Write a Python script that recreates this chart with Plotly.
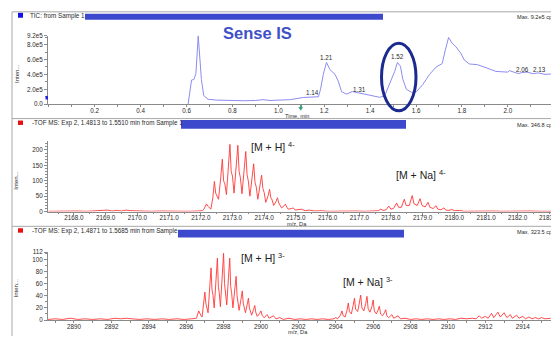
import plotly.graph_objects as go

W, H = 551, 339

# ---------------- data ----------------
# TIC chromatogram (time, min ; intensity, cps)
tic_time = [0.607, 0.622, 0.632, 0.641, 0.651, 0.665, 0.675, 0.694, 0.73, 0.78, 0.85, 0.90, 0.933, 0.964,
            1.05, 1.109, 1.153, 1.175, 1.184, 1.196, 1.21, 1.225, 1.247, 1.261, 1.276, 1.297, 1.323,
            1.355, 1.399, 1.442, 1.464, 1.478, 1.497, 1.507, 1.519, 1.532, 1.543, 1.558, 1.580, 1.601,
            1.63, 1.659, 1.688, 1.714, 1.728, 1.742, 1.757, 1.774, 1.796, 1.81, 1.832, 1.868, 1.905,
            1.948, 2.0, 2.007, 2.046, 2.062, 2.082, 2.111, 2.133, 2.162, 2.188]
tic_int = [0.0, 3.25e5, 3.3e5, 4.1e5, 9.2e5, 3.3e5, 1.15e5, 0.66e5, 0.55e5, 0.47e5, 0.46e5, 0.5e5, 0.6e5, 0.5e5,
           0.6e5, 0.9e5, 0.95e5, 1.0e5, 2.0e5, 4.0e5, 5.6e5, 4.65e5, 4.0e5, 3.1e5, 1.67e5, 1.35e5, 1.7e5,
           1.5e5, 1.15e5, 0.92e5, 1.15e5, 2.2e5, 3.55e5, 4.4e5, 5.6e5, 5.1e5, 3.3e5, 2.0e5, 1.6e5, 1.65e5,
           2.65e5, 4.0e5, 5.0e5, 5.45e5, 7.3e5, 8.95e5, 8.2e5, 7.7e5, 6.8e5, 5.95e5, 5.4e5, 5.3e5, 4.9e5,
           4.4e5, 4.3e5, 4.5e5, 4.1e5, 4.25e5, 4.3e5, 4.1e5, 4.2e5, 4.0e5, 4.05e5]
tic_peak_labels = ["0.65", "1.21", "1.14", "1.31", "1.52", "1.74", "2.06", "2.13"]
tic_label_x = [0.651, 1.211, 1.147, 1.354, 1.519, 1.744, 2.062, 2.139]
tic_label_y = [9.59e5, 6.22e5, 1.52e5, 1.92e5, 6.35e5, 9.59e5, 4.6e5, 4.6e5]
tic_yticks = [0, 2e5, 4e5, 6e5, 8e5, 9.2e5]
tic_yticktext = ["0.0", "2.0e5", "4.0e5", "6.0e5", "8.0e5", "9.2e5"]
tic_xticks = [0.2, 0.4, 0.6, 0.8, 1.0, 1.2, 1.4, 1.6, 1.8, 2.0]

# TOF MS spectrum 1 (m/z ; intensity)
ms1_mz = [2167.2, 2167.5, 2167.8, 2168.1, 2168.4, 2168.7, 2168.9, 2169.05, 2169.2, 2169.35, 2169.5,
          2169.65, 2169.8, 2170.0, 2170.2, 2170.45, 2170.7, 2171.0, 2171.3, 2171.6, 2171.9, 2172.05,
          2172.10, 2172.18, 2172.22, 2172.27, 2172.32, 2172.38, 2172.43, 2172.47, 2172.51, 2172.56,
          2172.63, 2172.68, 2172.72, 2172.76, 2172.81, 2172.87, 2172.92, 2172.96, 2173.0, 2173.05,
          2173.12, 2173.17, 2173.21, 2173.25, 2173.30, 2173.37, 2173.42, 2173.46, 2173.50, 2173.55,
          2173.62, 2173.67, 2173.71, 2173.75, 2173.80, 2173.87, 2173.92, 2173.96, 2174.0, 2174.05,
          2174.12, 2174.17, 2174.21, 2174.25, 2174.30, 2174.37, 2174.42, 2174.46, 2174.50, 2174.55,
          2174.62, 2174.67, 2174.71, 2174.76, 2174.86, 2174.92, 2174.98, 2175.1, 2175.17, 2175.3,
          2175.42, 2175.6, 2175.8, 2176.0, 2176.3, 2176.6, 2176.9, 2177.2, 2177.45, 2177.6, 2177.68,
          2177.75, 2177.85, 2177.93, 2178.0, 2178.08, 2178.18, 2178.24, 2178.33, 2178.42, 2178.48,
          2178.58, 2178.67, 2178.73, 2178.83, 2178.92, 2178.98, 2179.08, 2179.17, 2179.23, 2179.33,
          2179.42, 2179.48, 2179.58, 2179.67, 2179.73, 2179.83, 2179.92, 2180.0, 2180.1, 2180.17,
          2180.3, 2180.6, 2180.9, 2181.2, 2181.5, 2181.8, 2182.1, 2182.4, 2182.7, 2183.0, 2183.2]
ms1_int = [1, 2, 1, 2, 1, 3, 2, 5, 2, 4, 2,
           5, 3, 2, 3, 1, 2, 1, 2, 1, 2, 3,
           8, 25, 18, 14, 8, 45, 98, 60, 50, 40,
           110, 170, 100, 90, 55, 150, 218, 130, 115, 60,
           150, 215, 130, 110, 58, 135, 195, 120, 100, 50,
           110, 155, 95, 80, 40, 85, 118, 75, 62, 30,
           50, 72, 45, 38, 20, 32, 45, 28, 22, 12,
           18, 24, 15, 8, 10, 12, 5, 6, 8, 3,
           5, 2, 3, 1, 2, 1, 2, 1, 2, 3, 8,
           4, 6, 18, 8, 10, 28, 14, 14, 40, 20,
           20, 52, 25, 20, 42, 20, 15, 30, 14, 10,
           19, 8, 6, 12, 5, 4, 7, 3, 3, 4,
           1, 2, 1, 2, 1, 2, 1, 2, 1, 2, 1]
ms1_xticks = [2168, 2169, 2170, 2171, 2172, 2173, 2174, 2175, 2176, 2177, 2178, 2179, 2180, 2181, 2182]
ms1_edge_tick = 2183
ms1_yticks = [0, 50, 100, 150, 200]

# TOF MS spectrum 2 (m/z ; intensity)
ms2_mz = [2888.6, 2889.0, 2889.4, 2889.8, 2890.2, 2890.6, 2891.0, 2891.4, 2891.8, 2892.2, 2892.5,
          2892.8, 2893.1, 2893.5, 2893.9, 2894.3, 2894.7, 2895.1, 2895.5, 2895.9, 2896.3, 2896.55,
          2896.67, 2896.72, 2896.78, 2896.85, 2896.93, 2897.0, 2897.05, 2897.1, 2897.17, 2897.26,
          2897.33, 2897.38, 2897.43, 2897.5, 2897.6, 2897.67, 2897.72, 2897.77, 2897.83, 2897.93,
          2898.0, 2898.05, 2898.1, 2898.17, 2898.26, 2898.33, 2898.38, 2898.43, 2898.5, 2898.6,
          2898.67, 2898.72, 2898.77, 2898.83, 2898.93, 2899.0, 2899.05, 2899.1, 2899.17, 2899.26,
          2899.33, 2899.38, 2899.43, 2899.5, 2899.6, 2899.67, 2899.72, 2899.8, 2899.93, 2900.0,
          2900.07, 2900.17, 2900.27, 2900.33, 2900.43, 2900.6, 2900.67, 2900.8, 2901.0, 2901.2,
          2901.5, 2901.8, 2902.1, 2902.4, 2902.7, 2903.0, 2903.3, 2903.6, 2903.9, 2904.0, 2904.1,
          2904.25, 2904.33, 2904.4, 2904.5, 2904.6, 2904.67, 2904.73, 2904.83, 2904.93, 2905.0,
          2905.06, 2905.17, 2905.26, 2905.33, 2905.4, 2905.5, 2905.6, 2905.67, 2905.73, 2905.83,
          2905.93, 2906.0, 2906.06, 2906.17, 2906.26, 2906.33, 2906.4, 2906.5, 2906.6, 2906.67,
          2906.73, 2906.83, 2906.93, 2907.0, 2907.1, 2907.25, 2907.33, 2907.45, 2907.7, 2908.0,
          2908.3, 2908.6, 2908.9, 2909.2, 2909.5, 2909.8, 2910.1, 2910.4, 2910.7, 2911.0, 2911.3,
          2911.5, 2911.67, 2911.8, 2912.0, 2912.15, 2912.33, 2912.45, 2912.67, 2912.8, 2913.0,
          2913.15, 2913.33, 2913.45, 2913.67, 2913.8, 2914.0, 2914.15, 2914.33, 2914.5, 2914.67,
          2914.85, 2915.0, 2915.2, 2915.5]
ms2_int = [1, 2, 1, 3, 1, 2, 1, 2, 1, 3, 2,
           3, 2, 1, 2, 1, 2, 1, 2, 1, 2, 3,
           15, 10, 8, 5, 25, 46, 28, 22, 12, 55,
           86, 50, 42, 20, 70, 102, 55, 45, 22, 75,
           110, 60, 48, 25, 70, 102, 55, 45, 20, 50,
           72, 40, 32, 16, 34, 48, 28, 22, 12, 25,
           36, 20, 16, 8, 17, 24, 13, 6, 11, 15,
           7, 4, 7, 9, 3, 5, 7, 2, 4, 1,
           3, 1, 2, 1, 2, 1, 2, 1, 2, 4, 2,
           8, 15, 7, 5, 16, 28, 14, 10, 24, 36,
           18, 14, 28, 41, 20, 15, 27, 39, 19, 13,
           22, 33, 15, 10, 16, 23, 10, 7, 12, 17,
           7, 4, 7, 9, 3, 5, 7, 2, 3, 1,
           2, 1, 2, 1, 2, 1, 2, 1, 3, 2, 3,
           2, 7, 3, 6, 3, 11, 4, 13, 5, 12,
           4, 9, 3, 8, 3, 6, 2, 5, 2, 4,
           2, 4, 2, 3]
ms2_xticks = [2890, 2892, 2894, 2896, 2898, 2900, 2902, 2904, 2906, 2908, 2910, 2912, 2914]
ms2_yticks = [0, 20, 40, 60, 80, 100, 112]

# ---------------- helpers (pixel -> paper) ----------------
def px(x):
    return x / W

def py(y):
    return (H - y) / H

FONT = "Liberation Sans, Arial, sans-serif"
AX = "#8a8a8a"
TXT = "#2a2a2a"

fig = go.Figure()
fig.add_trace(go.Scatter(x=tic_time, y=tic_int, mode="lines", line=dict(color="#8c8cf2", width=1),
                         xaxis="x", yaxis="y", hoverinfo="skip"))
fig.add_trace(go.Scatter(x=ms1_mz, y=ms1_int, mode="lines", line=dict(color="#ff3838", width=0.9),
                         xaxis="x2", yaxis="y2", hoverinfo="skip"))
fig.add_trace(go.Scatter(x=ms2_mz, y=ms2_int, mode="lines", line=dict(color="#ff3838", width=0.9),
                         xaxis="x3", yaxis="y3", hoverinfo="skip"))

def xax(rng, tickvals, ticktext, minor_dtick, anchor):
    return dict(domain=[px(48), 1.0], range=rng, anchor=anchor, showline=True, linecolor=AX, linewidth=1,
                ticks="outside", ticklen=2, tickcolor=AX, tickvals=tickvals, ticktext=ticktext,
                ticklabelstandoff=-2,
                tickfont=dict(size=6.3, color=TXT, family=FONT), showgrid=False, zeroline=False,
                minor=dict(ticks="outside", ticklen=1.5, tickcolor=AX, dtick=minor_dtick, tickmode="linear"))

def yax(dom, rng, tickvals, ticktext, minor_dtick, anchor):
    return dict(domain=dom, range=rng, anchor=anchor, showline=True, linecolor=AX, linewidth=1,
                ticks="outside", ticklen=3, tickcolor=AX, tickvals=tickvals, ticktext=ticktext,
                tickfont=dict(size=6.3, color=TXT, family=FONT), showgrid=False, zeroline=False,
                minor=dict(ticks="outside", ticklen=2, tickcolor=AX, dtick=minor_dtick, tick0=0, tickmode="linear"))

fig.update_layout(
    width=W, height=H, autosize=False, margin=dict(l=0, r=0, t=0, b=0),
    paper_bgcolor="white", plot_bgcolor="white", showlegend=False,
    font=dict(family=FONT, size=7, color=TXT),
    xaxis=xax([-0.0035, 2.1882], tic_xticks, [f"{v:.1f}" for v in tic_xticks], 0.1, "y"),
    yaxis=yax([py(102.3), py(32.3)], [0, 9.2e5], tic_yticks, tic_yticktext, 1e5, "x"),
    xaxis2=xax([2167.18, 2183.05], ms1_xticks, [f"{v:.1f}" for v in ms1_xticks], 0.5, "y2"),
    yaxis2=yax([py(212.0), py(140.0)], [0, 228.6], ms1_yticks, [str(v) for v in ms1_yticks], 10, "x2"),
    xaxis3=xax([2888.61, 2915.51], ms2_xticks, [str(v) for v in ms2_xticks], 1, "y3"),
    yaxis3=yax([py(322.7), py(253.3)], [0, 112], ms2_yticks, [str(v) for v in ms2_yticks], 10, "x3"),
)

shapes = []
# frame lines
for yy in (8, 117, 227):
    shapes.append(dict(type="line", xref="paper", yref="paper", x0=px(12), x1=1.0, y0=py(yy), y1=py(yy),
                       line=dict(color="#a8a8a8", width=1)))
shapes.append(dict(type="line", xref="paper", yref="paper", x0=px(12), x1=px(12), y0=py(8), y1=0,
                   line=dict(color="#a8a8a8", width=1)))
# colored squares
shapes.append(dict(type="rect", xref="paper", yref="paper", x0=px(18), x1=px(23), y0=py(14), y1=py(9),
                   fillcolor="#1010e8", line=dict(width=0)))
for yy in (119, 229):
    shapes.append(dict(type="rect", xref="paper", yref="paper", x0=px(18), x1=px(23), y0=py(yy + 4.5), y1=py(yy),
                       fillcolor="#e81010", line=dict(width=0)))
# blue range bars
for (x0, x1, y0, y1) in ((85, 383, 10, 16), (181, 406, 118.5, 127.5), (178, 404, 230.5, 238.3)):
    shapes.append(dict(type="rect", xref="paper", yref="paper", x0=px(x0), x1=px(x1), y0=py(y1), y1=py(y0),
                       fillcolor="#3d49cc", line=dict(width=0)))
# small markers in TIC panel
shapes.append(dict(type="rect", xref="paper", yref="paper", x0=px(45.5), x1=px(48), y0=py(97.5), y1=py(94),
                   fillcolor="#2020e0", line=dict(width=0)))
shapes.append(dict(type="path", xref="paper", yref="paper",
                   path=f"M {px(300.7)} {py(103)} L {px(300.7)} {py(107)}",
                   line=dict(color="#2e9a78", width=1)))
shapes.append(dict(type="path", xref="paper", yref="paper",
                   path=f"M {px(298.7)} {py(105.5)} L {px(302.7)} {py(105.5)} L {px(300.7)} {py(108.5)} Z",
                   fillcolor="#2e9a78", line=dict(color="#2e9a78", width=0.5)))
# tick mark for the edge tick of spectrum 1
shapes.append(dict(type="line", xref="x2", yref="paper", x0=ms1_edge_tick, x1=ms1_edge_tick,
                   y0=py(212.0), y1=py(214.0), line=dict(color=AX, width=1)))
# highlight ellipse
shapes.append(dict(type="circle", xref="paper", yref="paper", x0=px(381.5), x1=px(416), y0=py(109), y1=py(40),
                   line=dict(color="#1a2a8e", width=3)))
fig.update_layout(shapes=shapes)

ann = []
def text(x, y, s, size=7, color=TXT, xanchor="left", angle=0):
    ann.append(dict(x=px(x), y=py(y), xref="paper", yref="paper", text=s, showarrow=False,
                    xanchor=xanchor, yanchor="middle", textangle=angle,
                    font=dict(size=size, color=color, family=FONT)))

text(28, 12.5, "TIC: from Sample 1", size=6.3)
text(29.5, 121.8, "-TOF MS: Exp 2, 1.4813 to 1.5510 min from Sample 1", size=6.3)
text(29.5, 231.8, "-TOF MS: Exp 2, 1.4871 to 1.5685 min from Sample", size=6.3)
text(515, 13.3, "Max. 9.2e5 cps", size=5.6)
text(514.5, 124, "Max. 346.8 cps", size=5.6)
text(515, 233, "Max. 323.5 cps", size=5.6)
text(297, 114, "Time, min", size=5.6, xanchor="center")
text(297, 225, "m/z, Da", size=5.6, xanchor="center")
text(298, 335, "m/z, Da", size=5.6, xanchor="center")
for yc in (71, 180, 290):
    text(16.5, yc, "Inten...", size=6, xanchor="center", angle=-90)
text(221, 29.5, "<b>Sense IS</b>", size=16.5, color="#4050c8")
text(249, 145, "[M + H] <sup>4-</sup>", size=10.5, color="#222222")
text(393.5, 174, "[M + Na] <sup>4-</sup>", size=10.5, color="#222222")
text(239, 258.5, "[M + H] <sup>3-</sup>", size=10.5, color="#222222")
text(340.5, 283.5, "[M + Na] <sup>3-</sup>", size=10.5, color="#222222")

# edge tick label of spectrum 1 (clipped by the page edge like the original)
ann.append(dict(x=ms1_edge_tick, y=py(217.6), xref="x2", yref="paper", text=f"{ms1_edge_tick:.1f}",
                showarrow=False, xanchor="center", yanchor="middle",
                font=dict(size=6.3, color=TXT, family=FONT)))

for lab, lx, ly in zip(tic_peak_labels, tic_label_x, tic_label_y):
    ann.append(dict(x=lx, y=ly, xref="x", yref="y", text=lab, showarrow=False, xanchor="center",
                    yanchor="middle", font=dict(size=6.3, color=TXT, family=FONT)))

fig.update_layout(annotations=ann)
fig.write_html("out.html", config={"displayModeBar": False},
               post_script="document.body.style.margin='0';document.body.style.padding='0';")
